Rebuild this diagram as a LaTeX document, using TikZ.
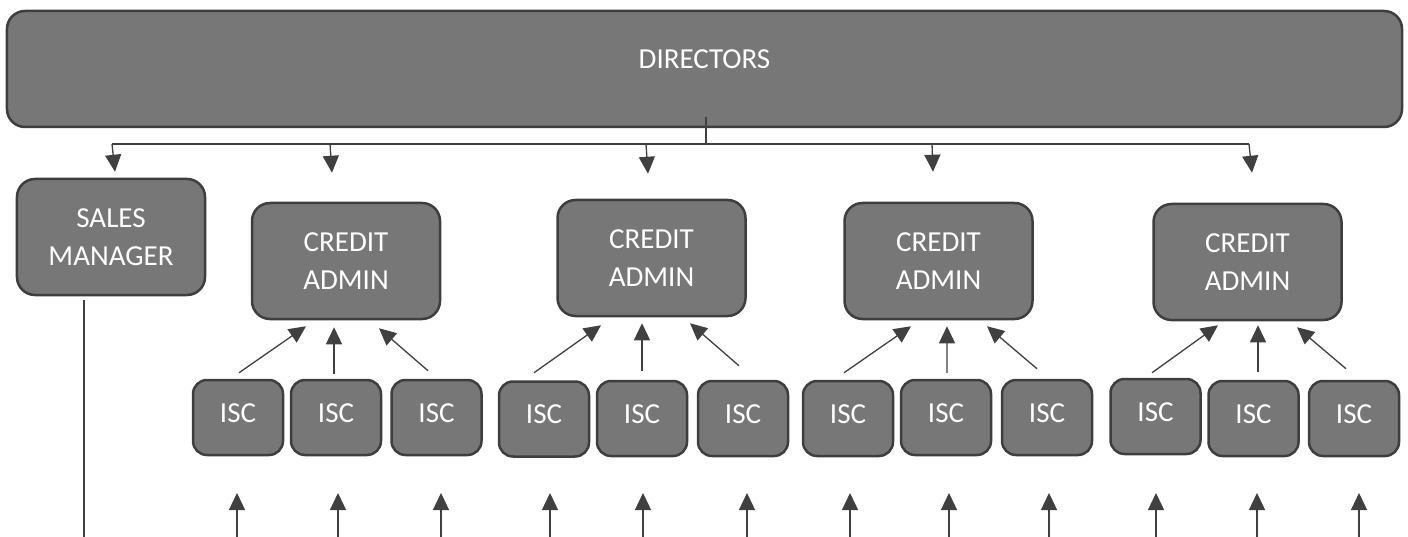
\documentclass[tikz,border=0pt]{standalone}
\usepackage{fontspec}
\setmainfont{Carlito}
\usetikzlibrary{arrows.meta}

\definecolor{boxfill}{HTML}{777777}
\definecolor{boxline}{HTML}{3E3E3E}
\definecolor{wire}{HTML}{404040}

\tikzset{
  unit/.style={draw=boxline, fill=boxfill, line width=2.5bp, text=white,
    font=\fontsize{29bp}{38bp}\selectfont, align=center, inner sep=0pt},
  bigbox/.style={unit, rounded corners=18bp, minimum width=188bp, minimum height=116bp},
  iscbox/.style={unit, rounded corners=14bp, minimum width=90bp, minimum height=75bp, text depth=9bp},
  wireline/.style={draw=wire, line width=1.3bp},
  arr/.style={wireline, -{Triangle[length=17bp 0,width=16bp 0]}}
}

\begin{document}
\begin{tikzpicture}[x=1bp,y=-1bp]
\useasboundingbox (0,0) rectangle (1408,537);

% Boxes
\node[bigbox, minimum width=1395bp, text depth=20bp] (dir) at (704.5,69) {DIRECTORS};
\node[bigbox] (sm)  at (111,237)    {SALES\\MANAGER};
\node[bigbox] (ca1) at (346,261)    {CREDIT\\ADMIN};
\node[bigbox] (ca2) at (651.5,258)  {CREDIT\\ADMIN};
\node[bigbox] (ca3) at (938.5,261)  {CREDIT\\ADMIN};
\node[bigbox] (ca4) at (1247.5,262) {CREDIT\\ADMIN};

\node[iscbox] (i1a) at (238,417.5)   {ISC};
\node[iscbox] (i1b) at (336,417.5)   {ISC};
\node[iscbox] (i1c) at (436.5,417.5) {ISC};
\node[iscbox] (i2a) at (544,419)     {ISC};
\node[iscbox] (i2b) at (642,418.5)   {ISC};
\node[iscbox] (i2c) at (743,418.5)   {ISC};
\node[iscbox] (i3a) at (848,418.5)   {ISC};
\node[iscbox] (i3b) at (946,417.5)   {ISC};
\node[iscbox] (i3c) at (1047,417.5)  {ISC};
\node[iscbox] (i4a) at (1155.5,416.5) {ISC};
\node[iscbox] (i4b) at (1253.5,418.5) {ISC};
\node[iscbox] (i4c) at (1354,418.5)  {ISC};

% Distribution bus below the directors
\coordinate (trunk) at ([shift={(1.5,-11)}]dir.south);
\coordinate (b1) at (112,144);
\coordinate (b2) at (330,144);
\coordinate (b3) at (646,144);
\coordinate (b4) at (932,144);
\coordinate (b5) at (1249,144);
\draw[wireline] (trunk) -- (trunk |- b1);
\draw[wireline] (b1) -- (b5);
\draw[arr] (b1) -- ([shift={(4,-6)}]sm.north);
\draw[arr] (b2) -- ([shift={(-14,-29)}]ca1.north);
\draw[arr] (b3) -- ([shift={(-3.5,-25)}]ca2.north);
\draw[arr] (b4) -- ([shift={(-5.5,-30)}]ca3.north);
\draw[arr] (b5) -- ([shift={(4.5,-30)}]ca4.north);

% ISC reporting lines
\draw[arr] ([shift={(1,-6)}]i1a.north)    -- ([shift={(-40,6)}]ca1.south);
\draw[arr] ([shift={(-2,-5)}]i1b.north)   -- ([shift={(-12,7)}]ca1.south);
\draw[arr] ([shift={(-8.5,-8)}]i1c.north) -- ([shift={(33,8)}]ca1.south);

\draw[arr] ([shift={(-10,-7.5)}]i2a.north) -- ([shift={(-50.5,8)}]ca2.south);
\draw[arr] ([shift={(0,-9)}]i2b.north)     -- ([shift={(-9.5,6)}]ca2.south);
\draw[arr] ([shift={(-4,-14)}]i2c.north)   -- ([shift={(38.5,6)}]ca2.south);

\draw[arr] ([shift={(-4,-7)}]i3a.north)   -- ([shift={(-27.5,6)}]ca3.south);
\draw[arr] ([shift={(1,-6)}]i3b.north)    -- ([shift={(8.5,6)}]ca3.south);
\draw[arr] ([shift={(-10,-10)}]i3c.north) -- ([shift={(48.5,6)}]ca3.south);

\draw[arr] ([shift={(-3.5,-5)}]i4a.north) -- ([shift={(-29.5,4)}]ca4.south);
\draw[arr] ([shift={(4.5,-8)}]i4b.north)  -- ([shift={(10.5,4)}]ca4.south);
\draw[arr] ([shift={(-8,-11)}]i4c.north)  -- ([shift={(49.5,6)}]ca4.south);

% Line down from the sales manager
\coordinate (smfoot) at (84,537);
\draw[wireline] ([shift={(-27,4)}]sm.south) -- (smfoot);

% Incoming arrows along the bottom edge
\foreach \k/\x in {1/237,2/338,3/441,4/550,5/643,6/747,7/850,8/949,9/1049,10/1156,11/1257,12/1359}{
  \coordinate (in\k) at (\x,537);
  \coordinate (tip\k) at (\x,493);
  \draw[arr] (in\k) -- (tip\k);
}
\end{tikzpicture}
\end{document}
